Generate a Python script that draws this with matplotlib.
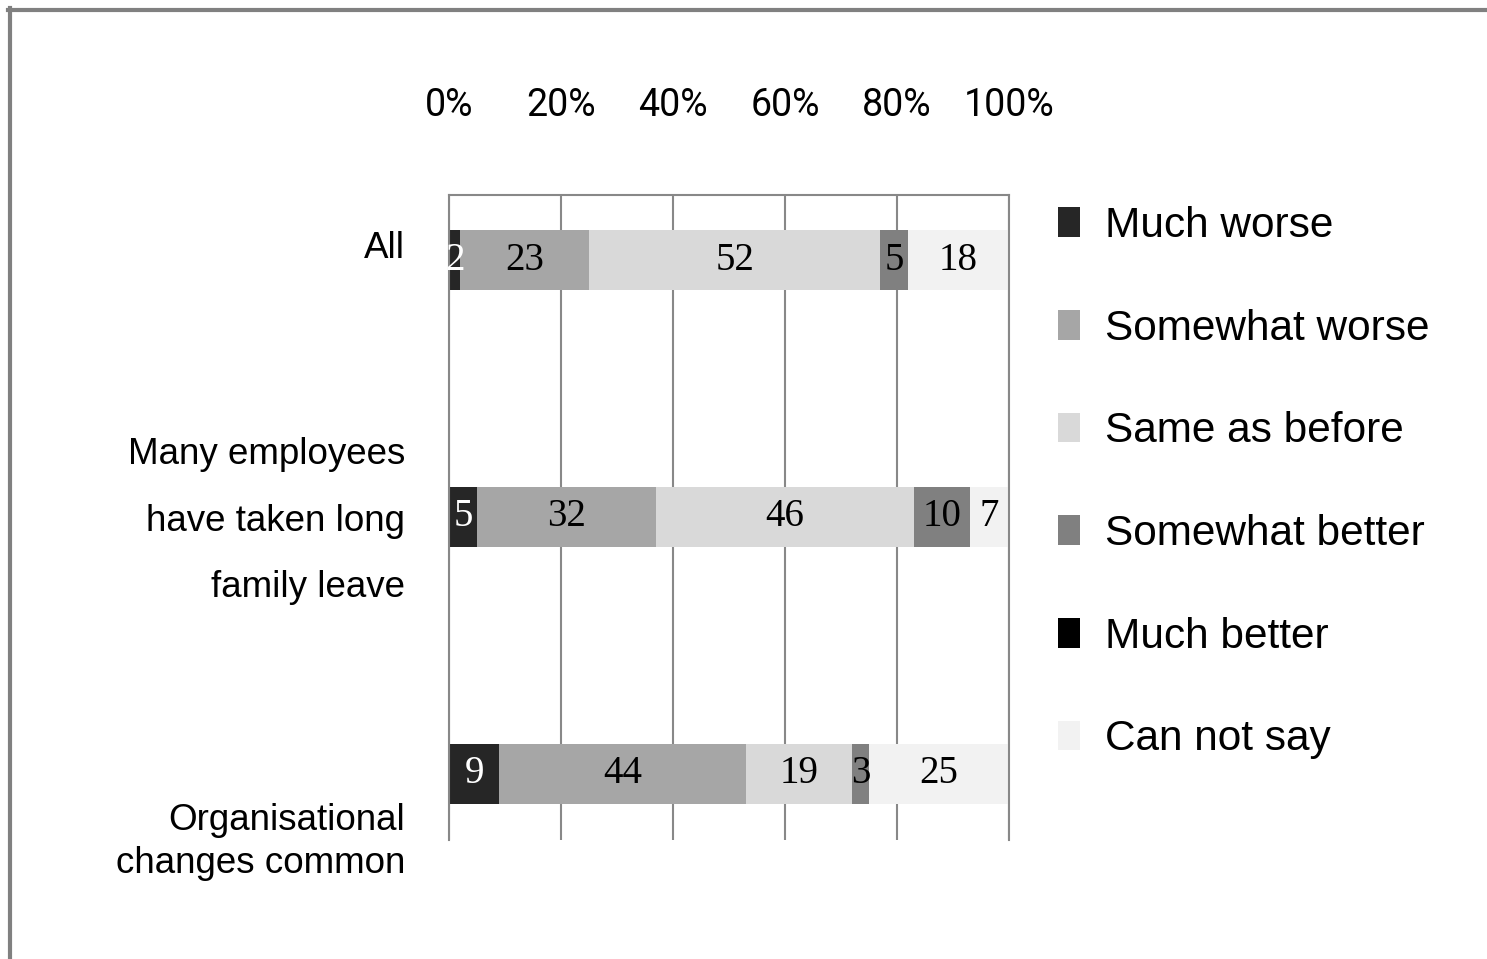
import numpy as np
import matplotlib.pyplot as plt
from matplotlib.lines import Line2D

categories = ["All",
              "Many employees\nhave taken long\nfamily leave",
              "Organisational\nchanges common"]
responses = ["Much worse", "Somewhat worse", "Same as before",
             "Somewhat better", "Much better", "Can not say"]
much_worse = [2, 5, 9]
somewhat_worse = [23, 32, 44]
same_as_before = [52, 46, 19]
somewhat_better = [5, 10, 3]
much_better = [0, 0, 0]
can_not_say = [18, 7, 25]
x_ticks = [0, 20, 40, 60, 80, 100]

colors = ["#262626", "#a6a6a6", "#d9d9d9", "#808080", "#000000", "#f2f2f2"]
text_colors = ["white", "black", "black", "black", "white", "black"]

W, H = 1487, 959
fig = plt.figure(figsize=(W / 100, H / 100), dpi=100)
ax = fig.add_axes([449 / W, 1 - 840 / H, 560 / W, 645 / H])

series = [much_worse, somewhat_worse, same_as_before,
          somewhat_better, much_better, can_not_say]
y = np.arange(len(categories))
left = np.zeros(len(categories))
for name, vals, c, tc in zip(responses, series, colors, text_colors):
    vals = np.array(vals, dtype=float)
    bars = ax.barh(y, vals, left=left, height=0.23, color=c, label=name, zorder=2)
    ax.bar_label(bars, labels=[f"{v:g}" if v > 0 else "" for v in vals],
                 label_type="center", color=tc, fontsize=28,
                 family="Liberation Serif")
    left += vals

ax.set_xlim(0, 100)
ax.set_ylim(2.257, -0.253)
ax.xaxis.tick_top()
ax.set_xticks(x_ticks)
ax.set_xticklabels([f"{t}%" for t in x_ticks], family="Roboto", fontsize=27)
ax.tick_params(axis="x", length=0, pad=51)
ax.set_yticks([])
ax.xaxis.grid(True, color="#888888", linewidth=1.5)
ax.set_axisbelow(True)
for side in ["top", "left", "right"]:
    ax.spines[side].set_color("#888888")
    ax.spines[side].set_linewidth(1.5)
ax.spines["bottom"].set_visible(False)

# category labels, each nudged a little off its bar
offsets = [8.5, -3, -49]
spacings = [1.2, 2.17, 1.3]
for i, (cat, dy, ls) in enumerate(zip(categories, offsets, spacings)):
    ax.annotate(cat, xy=(0, i), xycoords=("axes fraction", "data"),
                xytext=(-31.5, dy), textcoords="offset points",
                ha="right", va="center", ma="right", linespacing=ls,
                fontsize=26.5, family="Liberation Sans")

handles, labels = ax.get_legend_handles_labels()
fig.legend(handles, labels, loc="upper left",
           bbox_to_anchor=(1058 / W, 1 - 206 / H), frameon=False,
           prop={"family": "Liberation Sans", "size": 30.5},
           handlelength=0.52, handleheight=0.7, handletextpad=0.6,
           labelspacing=1.48, borderpad=0, borderaxespad=0)

# frame lines along the top and left edges
fig.add_artist(Line2D([8 / W, 1], [1 - 9.5 / H] * 2, transform=fig.transFigure,
                      color="#808080", linewidth=3))
fig.add_artist(Line2D([9.5 / W] * 2, [0, 1 - 8 / H], transform=fig.transFigure,
                      color="#808080", linewidth=3))

fig.savefig("out.png", dpi=100)
